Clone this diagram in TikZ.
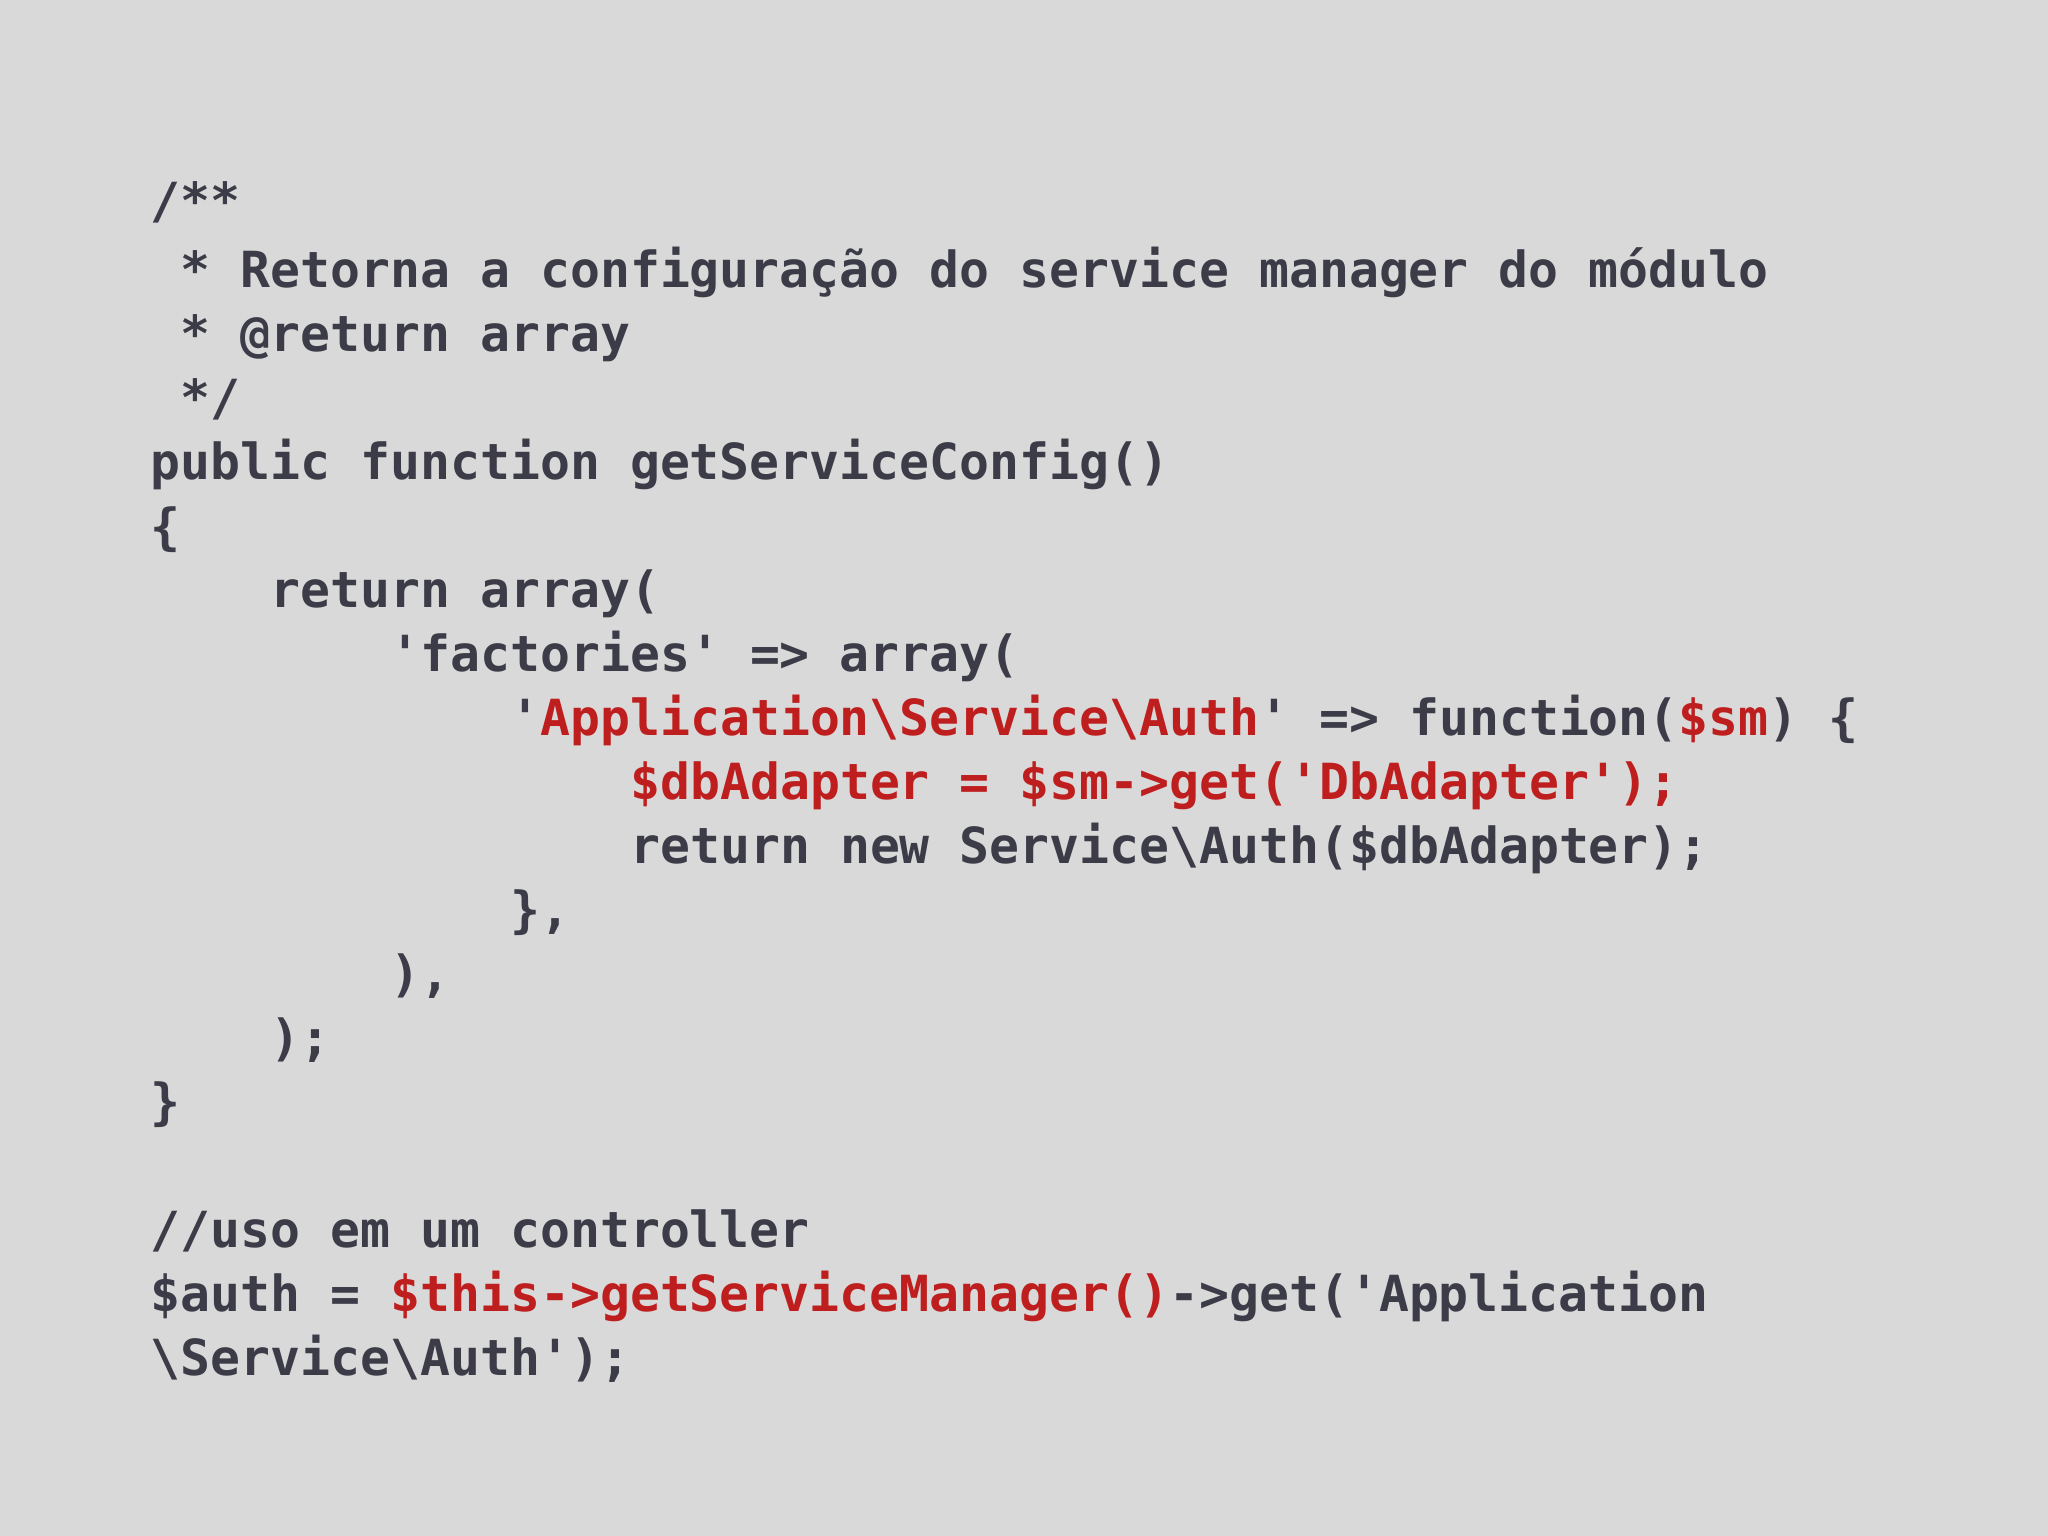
\documentclass[tikz,border=0pt]{standalone}
\usepackage{fontspec}
\newfontfamily\code{DejaVu Sans Mono}
\definecolor{bg}{HTML}{D9D9D9}
\definecolor{ink}{HTML}{3C3C48}
\definecolor{rd}{HTML}{BE1E1E}
\newcommand{\R}[1]{\textcolor{rd}{#1}}
\newcommand{\bs}{\textbackslash}
\begin{document}
\begin{tikzpicture}[x=0.5pt,y=-0.5pt,
  ln/.style={anchor=base west,inner sep=0pt,font=\code\bfseries\fontsize{19.05}{20}\selectfont,text=ink}]
\fill[bg] (0,0) rectangle (1568,1176);
\useasboundingbox (0,0) rectangle (1568,1176);
\def\c#1{115+#1*22.95}
\node[ln] (l1) at ({\c{0}},167) {/**};
\node[ln] (l2) at ({\c{1}},220) {* Retorna a configuração do service manager do módulo};
\node[ln] (l3) at ({\c{1}},269) {* @return array};
\node[ln] (l4) at ({\c{1}},318) {*/};
\node[ln] (l5) at ({\c{0}},367) {public function getServiceConfig()};
\node[ln] (l6) at ({\c{0}},417) {\{};
\node[ln] (l7) at ({\c{4}},465) {return array(};
\node[ln] (l8) at ({\c{8}},514) {'factories' => array(};
\node[ln] (l9) at ({\c{12}},563) {'\R{Application\bs Service\bs Auth}' => function(\R{\$sm}) \{};
\node[ln] (l10) at ({\c{16}},612) {\R{\$dbAdapter = \$sm->get('DbAdapter');}};
\node[ln] (l11) at ({\c{16}},661) {return new Service\bs Auth(\$dbAdapter);};
\node[ln] (l12) at ({\c{12}},710) {\},};
\node[ln] (l13) at ({\c{8}},759) {),};
\node[ln] (l14) at ({\c{4}},808) {);};
\node[ln] (l15) at ({\c{0}},857) {\}};
\node[ln] (l16) at ({\c{0}},955) {//uso em um controller};
\node[ln] (l17) at ({\c{0}},1004) {\$auth = \R{\$this->getServiceManager()}->get('Application};
\node[ln] (l18) at ({\c{0}},1053) {\bs Service\bs Auth');};
\end{tikzpicture}
\end{document}
